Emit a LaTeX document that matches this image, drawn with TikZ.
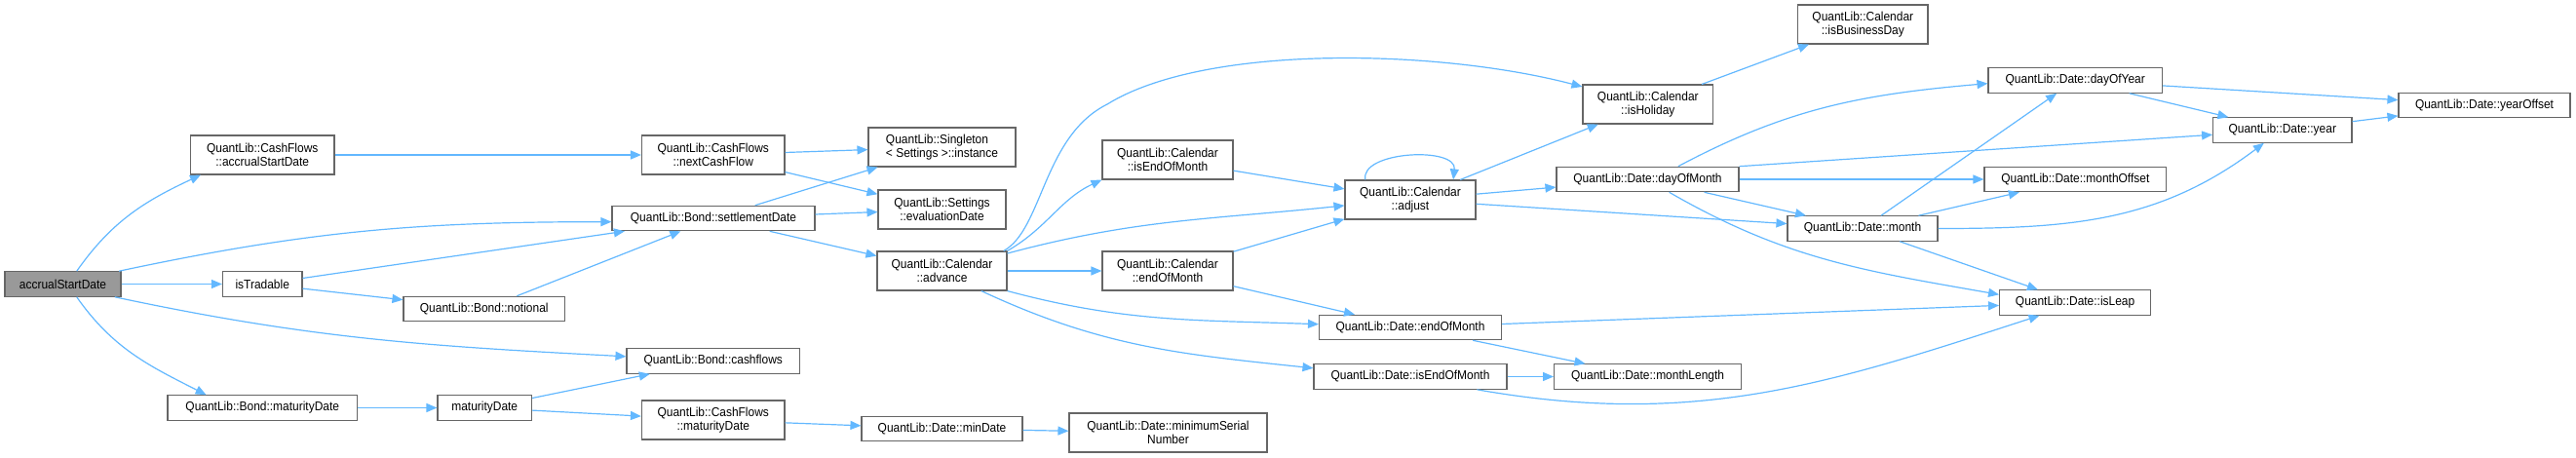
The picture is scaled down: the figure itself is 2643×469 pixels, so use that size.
\documentclass[tikz,border=0pt]{standalone}
\usepackage{fontspec}
\setmainfont{Liberation Sans}[FakeStretch=0.92]
\usepackage{tikz}
\usetikzlibrary{arrows.meta}
\definecolor{edgeblue}{HTML}{63B8FF}
\definecolor{boxgray}{HTML}{666666}
\definecolor{rootgray}{HTML}{999999}
\tikzset{
  fnbox/.style={draw=boxgray, fill=white, line width=1.1pt, inner sep=0pt,
    minimum height=25.5pt, minimum width=#1, align=center,
    font=\fontsize{13}{14.5}\selectfont},
  twoline/.style={minimum height=40pt},
  rootbox/.style={fill=rootgray},
  call/.style={->, draw=edgeblue, line width=1.2pt},
  >={Triangle[length=11pt,width=9pt]}
}

\begin{document}
\begin{tikzpicture}[x=1pt, y=1pt]
  \useasboundingbox (0,0) rectangle (2643,-469);
  \node[fnbox=119pt, rootbox] (acc) at (64.5,-291.5) {accrualStartDate};
  \node[fnbox=147.5pt, twoline] (cfAcc) at (269.25,-159) {QuantLib::CashFlows\\::accrualStartDate};
  \node[fnbox=81.5pt] (isTrad) at (269.25,-291.5) {isTradable};
  \node[fnbox=194.5pt] (bondMat) at (269.25,-418.5) {QuantLib::Bond::maturityDate};
  \node[fnbox=165.5pt] (notional) at (496.75,-317) {QuantLib::Bond::notional};
  \node[fnbox=96.5pt] (matDate) at (497.25,-418.5) {maturityDate};
  \node[fnbox=146.5pt, twoline] (nextCF) at (731.75,-159) {QuantLib::CashFlows\\::nextCashFlow};
  \node[fnbox=208pt] (settle) at (732,-224) {QuantLib::Bond::settlementDate};
  \node[fnbox=177.5pt] (cashflows) at (731.75,-370.5) {QuantLib::Bond::cashflows};
  \node[fnbox=146.5pt, twoline] (cfMat) at (731.75,-431) {QuantLib::CashFlows\\::maturityDate};
  \node[fnbox=151pt, twoline, align=left] (instance) at (966.5,-151) {QuantLib::Singleton\\< Settings >::instance};
  \node[fnbox=131pt, twoline] (evalDate) at (966.5,-215) {QuantLib::Settings\\::evaluationDate};
  \node[fnbox=133pt, twoline] (advance) at (966.5,-278) {QuantLib::Calendar\\::advance};
  \node[fnbox=165pt] (minDate) at (966.5,-440) {QuantLib::Date::minDate};
  \node[fnbox=134pt, twoline] (calIsEOM) at (1198,-164) {QuantLib::Calendar\\::isEndOfMonth};
  \node[fnbox=134pt, twoline] (calEOM) at (1198,-278) {QuantLib::Calendar\\::endOfMonth};
  \node[fnbox=203pt, twoline] (minSerial) at (1198.5,-444) {QuantLib::Date::minimumSerial\\Number};
  \node[fnbox=134pt, twoline] (adjust) at (1447,-205) {QuantLib::Calendar\\::adjust};
  \node[fnbox=187pt] (dateEOM) at (1447,-336) {QuantLib::Date::endOfMonth};
  \node[fnbox=198pt] (dateIsEOM) at (1447,-386.5) {QuantLib::Date::isEndOfMonth};
  \node[fnbox=133.6pt, twoline] (holiday) at (1690.8,-107) {QuantLib::Calendar\\::isHoliday};
  \node[fnbox=187pt] (dayOfMonth) at (1690.5,-184) {QuantLib::Date::dayOfMonth};
  \node[fnbox=192pt] (monthLen) at (1690.6,-386.5) {QuantLib::Date::monthLength};
  \node[fnbox=133.4pt, twoline] (busDay) at (1911.3,-25) {QuantLib::Calendar\\::isBusinessDay};
  \node[fnbox=154pt] (month) at (1911,-234.5) {QuantLib::Date::month};
  \node[fnbox=178.5pt] (dayOfYear) at (2129.25,-82.5) {QuantLib::Date::dayOfYear};
  \node[fnbox=186.7pt] (monthOff) at (2129.35,-184) {QuantLib::Date::monthOffset};
  \node[fnbox=155pt] (isLeap) at (2129.1,-310.5) {QuantLib::Date::isLeap};
  \node[fnbox=142.4pt] (year) at (2341.8,-133.5) {QuantLib::Date::year};
  \node[fnbox=176pt] (yearOff) at (2549,-108) {QuantLib::Date::yearOffset};

  \draw[call] (acc.43) to[out=55,in=205] (cfAcc.198);
  \draw[call] (acc.13) to[out=12,in=180] (settle.182);
  \draw[call] (acc) -- (isTrad);
  \draw[call] (acc.-14) to[out=-12,in=177] (cashflows.177);
  \draw[call] (acc.-43) to[out=-55,in=153] (bondMat.167);
  \draw[call] (cfAcc) -- (nextCF);
  \draw[call] (isTrad) -- (settle);
  \draw[call] (isTrad) -- (notional);
  \draw[call] (notional) -- (settle);
  \draw[call] (bondMat) -- (matDate);
  \draw[call] (matDate) -- (cashflows);
  \draw[call] (matDate) -- (cfMat);
  \draw[call] (nextCF) -- (instance);
  \draw[call] (nextCF) -- (evalDate);
  \draw[call] (settle) -- (instance);
  \draw[call] (settle) -- (evalDate);
  \draw[call] (settle) -- (advance);
  \draw[call] (cfMat) -- (minDate);
  \draw[call] (minDate) -- (minSerial);
  \draw[call] (advance.18) .. controls (1070,-235) and (1070,-140) .. (1136,-107)
    .. controls (1236,-45) and (1474,-50) .. (holiday.165);
  \draw[call] (advance.north east) to[out=30,in=205] (calIsEOM.south west);
  \draw[call] (advance.15) to[out=15,in=186] (adjust.185);
  \draw[call] (advance) -- (calEOM);
  \draw[call] (advance.south east) to[out=-15,in=178] (dateEOM.178);
  \draw[call] (advance.-27) to[out=-25,in=174] (dateIsEOM.175);
  \draw[call] (calIsEOM) -- (adjust);
  \draw[call] (calEOM) -- (adjust);
  \draw[call] (calEOM) -- (dateEOM);
  \draw[call] (adjust.156) .. controls (1395,-155) and (1495,-150) .. (adjust.25);
  \draw[call] (adjust) -- (holiday);
  \draw[call] (adjust) -- (dayOfMonth);
  \draw[call] (adjust) -- (month);
  \draw[call] (holiday) -- (busDay);
  \draw[call] (dayOfMonth.23) to[out=28,in=185] (dayOfYear.182);
  \draw[call] (dayOfMonth.north east) -- (year);
  \draw[call] (dayOfMonth) -- (monthOff);
  \draw[call] (dayOfMonth) -- (month);
  \draw[call] (dayOfMonth.-31) to[out=-30,in=170] (isLeap.174);
  \draw[call] (month) -- (dayOfYear);
  \draw[call] (month) -- (monthOff);
  \draw[call] (month.east) to[out=0,in=-143] (year.-145);
  \draw[call] (month) -- (isLeap);
  \draw[call] (dayOfYear) -- (yearOff);
  \draw[call] (dayOfYear) -- (year);
  \draw[call] (year) -- (yearOff);
  \draw[call] (dateEOM) -- (isLeap);
  \draw[call] (dateEOM) -- (monthLen);
  \draw[call] (dateIsEOM) -- (monthLen);
  \draw[call] (dateIsEOM.-11) to[out=-10,in=198] (isLeap.200);
\end{tikzpicture}
\end{document}
